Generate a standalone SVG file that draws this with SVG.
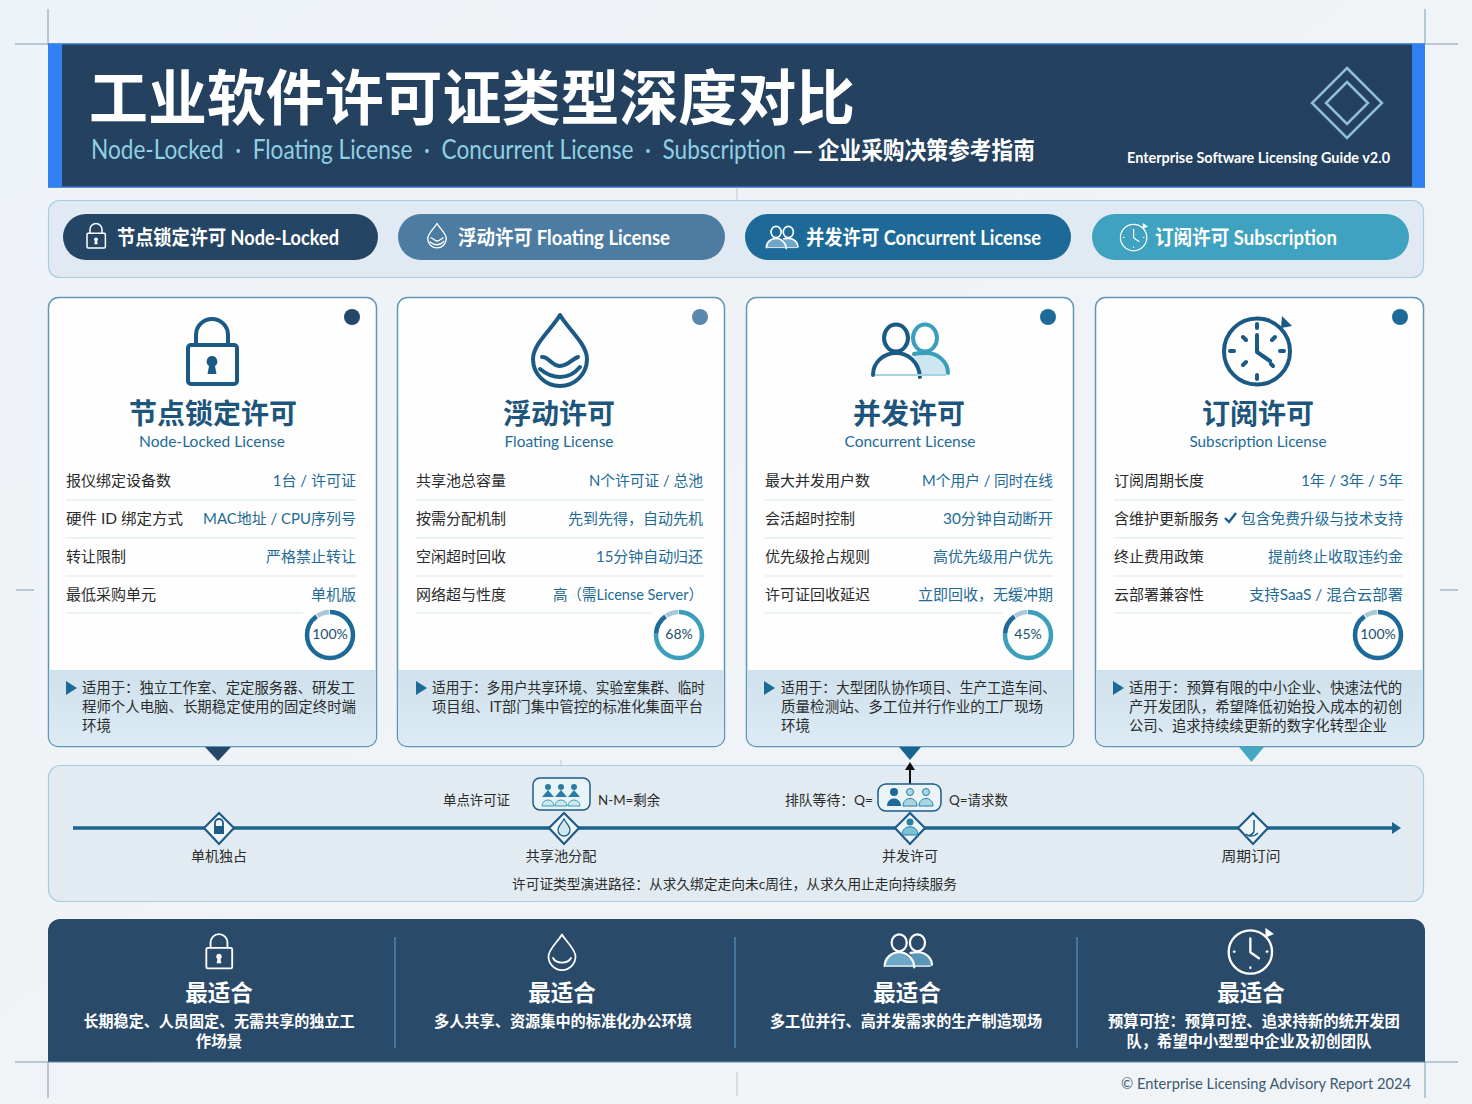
<svg xmlns="http://www.w3.org/2000/svg" width="1472" height="1104" viewBox="0 0 1472 1104">
<style>
text{font-family:"Lato","Noto Sans CJK SC",sans-serif}
.cjk{font-family:"Noto Sans CJK SC",sans-serif}
.crop{stroke:#7d9db3;stroke-width:1;fill:none}
.pill{font-size:20px;font-weight:700;fill:#fff}
.card{fill:#fdfefd;stroke:#5f97b7;stroke-width:1.5}
.title{font-size:28px;font-weight:700;fill:#1e557c;text-anchor:middle;font-family:"Noto Sans CJK SC",sans-serif}
.sub{font-size:15px;fill:#1f6a96;text-anchor:middle}
.k{font-size:15px;fill:#2b2b2b}
.v{font-size:15px;fill:#1f6a96;text-anchor:end}
.div{stroke:#dbe8ee;stroke-width:1.2}
.ap{font-size:14.5px;fill:#2b2b2b}
.pct{font-size:14px;fill:#24506f;text-anchor:middle}
.tl{font-size:14px;fill:#2b2b2b}
.tm{font-size:14px;fill:#2b2b2b;text-anchor:middle}
.bh{font-size:22.5px;font-weight:700;fill:#fff;text-anchor:middle;font-family:"Noto Sans CJK SC",sans-serif}
.bd{font-size:15.5px;font-weight:700;fill:#fff;text-anchor:middle;font-family:"Noto Sans CJK SC",sans-serif}
.ic{fill:none;stroke:currentColor;stroke-linecap:round;stroke-linejoin:round}
.dia{fill:#eef5f8;stroke:#1d5c88;stroke-width:2.2}
</style>
<defs>
<linearGradient id="bg" x1="0" y1="0" x2="1" y2="1"><stop offset="0" stop-color="#eef3f7"/><stop offset="1" stop-color="#f1f4f7"/></linearGradient>
<linearGradient id="band" x1="0" y1="0" x2="0" y2="1"><stop offset="0" stop-color="#cfe1ec"/><stop offset="1" stop-color="#dcebf4"/></linearGradient>
<symbol id="lock" viewBox="0 0 64 72" overflow="visible"><g class="ic"><rect x="8" y="30" width="49" height="39" rx="3"/><path d="M16 30V20a16 16 0 0 1 32 0v10"/></g><path d="M32 41a5.500 5.500 0 0 1 3 10l1.500 8h-9l1.500-8a5.500 5.500 0 0 1 3-10z" fill="currentColor"/></symbol>
<symbol id="drop" viewBox="0 0 64 72" overflow="visible"><g class="ic"><path d="M32 1C24 15 5 30 5 45a27 27 0 0 0 54 0C59 30 40 15 32 1z"/><path d="M14 43C20 42 24 52 32 52C40 52 44 45 50 43"/><path d="M12 55C18 60 24 63 32 63C40 63 47 59 52 53"/></g></symbol>
<symbol id="drop2" viewBox="0 0 64 72" overflow="visible"><g class="ic"><path d="M32 1C24 15 5 30 5 45a27 27 0 0 0 54 0C59 30 40 15 32 1z"/><path d="M14 48C20 60 44 60 50 48"/></g></symbol>
<symbol id="users" viewBox="0 0 76 54" overflow="visible"><path d="M40 30C44 29 50 29 54 29C66 29 76 38 76 51H48C47 42 44 35 40 30Z" fill="var(--b2,#cde6ef)"/><path d="M1 51C1 38 12 29 24 29C36 29 47 38 48 53L48 51Z" fill="var(--b1,none)"/><g class="ic"><ellipse cx="24" cy="14" rx="12" ry="13.500"/><path d="M1 51C1 38 12 29 24 29C36 29 47 38 48 53"/></g><g class="ic" style="stroke:var(--c2,currentColor)"><ellipse cx="53" cy="14" rx="12" ry="13.500"/><path d="M42 30C46 29 50 29 54 29C66 29 76 38 76 49"/></g><path d="M3 51H74" stroke="var(--c3,#a9d3e2)" stroke-width="2" fill="none"/></symbol>
<symbol id="clock" viewBox="0 0 70 70" overflow="visible"><g class="ic"><circle cx="34" cy="36.500" r="33"/><path d="M34 20V37L47 46"/><path d="M34 9v4M34 60v4M7 36h4M57 36h4M20 22l3 3M52 22l-3 3M20 50l3-3M48 49l2 2"/></g><path d="M59 1L69 11L58 13Z" fill="currentColor"/></symbol>
<symbol id="clock2" viewBox="0 0 70 70" overflow="visible"><g class="ic"><circle cx="34" cy="36.500" r="33"/><path d="M34 16V37L47 46"/><path d="M34 60v1M9 36h1M59 36h1"/></g><path d="M57 0L70 9L57 15Z" fill="currentColor"/></symbol>
</defs>
<rect width="1472" height="1104" fill="url(#bg)"/>

<g id="crop-marks">
<path class="crop" d="M48 9V44M15 44H48M1425 9V44M1425 44H1458M15 1062H48M48 1062V1098M1425 1062H1458M1425 1062V1098M16 590H34M1440 590H1458"/>
<path d="M737 188V201M561 760V772M737 1072V1096" stroke="#b9c8d3" stroke-width="1" fill="none"/>
</g>

<g id="header">
<rect x="48" y="44" width="1377" height="143" fill="#24415f"/>
<path d="M48 44H1425M48 187H1425" stroke="#2f73c4" stroke-width="1.500"/>
<rect x="48" y="44" width="14" height="143" fill="#2f80f0"/>
<rect x="1412" y="44" width="13" height="143" fill="#2f80f0"/>
<text x="89" y="120" class="cjk" font-size="60" font-weight="700" fill="#fff" textLength="766" lengthAdjust="spacingAndGlyphs">工业软件许可证类型深度对比</text>
<text x="91" y="159" font-size="26" fill="#8fd0e4" textLength="695" lengthAdjust="spacingAndGlyphs" style="white-space:pre">Node-Locked  ·  Floating License  ·  Concurrent License  ·  Subscription</text>
<text x="793" y="159" class="cjk" font-size="24" font-weight="700" fill="#fff" textLength="242" lengthAdjust="spacingAndGlyphs">— 企业采购决策参考指南</text>
<text x="1127" y="163" font-size="16" font-weight="700" fill="#fff" textLength="263" lengthAdjust="spacingAndGlyphs">Enterprise Software Licensing Guide v2.0</text>
<path d="M1347 68L1382 103L1347 138L1312 103Z M1347 82L1368 103L1347 124L1326 103Z" fill="none" stroke="#8ebfd5" stroke-width="2.500"/>
</g>

<g id="legend">
<rect x="48.500" y="200.500" width="1375" height="77" rx="11" fill="#e1eaf2" stroke="#a9cde0" stroke-width="1.200"/>
<g id="pill-node"><rect x="63" y="214" width="315" height="46" rx="23" fill="#254564"/>
<use href="#lock" x="84" y="222" width="24" height="27" style="color:#fff;stroke-width:4"/>
<text class="pill" x="117" y="245" textLength="222" lengthAdjust="spacingAndGlyphs">节点锁定许可 Node-Locked</text></g>
<g id="pill-float"><rect x="398" y="214" width="327" height="46" rx="23" fill="#4d7ca3"/>
<use href="#drop" x="426" y="222" width="22" height="27" style="color:#fff;stroke-width:4"/>
<text class="pill" x="458" y="245" textLength="212" lengthAdjust="spacingAndGlyphs">浮动许可 Floating License</text></g>
<g id="pill-conc"><rect x="745" y="214" width="326" height="46" rx="23" fill="#1d6a98"/>
<use href="#users" x="766" y="226" width="32" height="23" style="color:#fff;--b1:#6fa8c6;--b2:#6fa8c6;--c3:#fff;stroke-width:4"/>
<text class="pill" x="806" y="245" textLength="235" lengthAdjust="spacingAndGlyphs">并发许可 Concurrent License</text></g>
<g id="pill-sub"><rect x="1092" y="214" width="317" height="46" rx="23" fill="#3ea2c0"/>
<use href="#clock2" x="1120" y="223" width="28" height="28" style="color:#fff;stroke-width:3"/>
<text class="pill" x="1155" y="245" textLength="182" lengthAdjust="spacingAndGlyphs">订阅许可 Subscription</text></g>
</g>

<g id="card-node">
<rect class="card" x="48.500" y="297.500" width="328" height="449" rx="10"/>
<path d="M49 670H376V737a9 9 0 0 1-9 9H58a9 9 0 0 1-9-9Z" fill="url(#band)"/>
<circle cx="352" cy="317" r="8" fill="#24476a"/>
<use href="#lock" x="180" y="315" width="64" height="72" style="color:#1a5a85;stroke-width:4"/>
<text class="title" x="213" y="424">节点锁定许可</text>
<text class="sub" x="212" y="447" textLength="146" lengthAdjust="spacingAndGlyphs">Node-Locked License</text>
<text class="k" x="66" y="486">报仪绑定设备数</text><text class="v" x="356" y="486">1台 / 许可证</text>
<path class="div" d="M66 500H356M66 538H356M66 576H356M66 613H303"/>
<text class="k" x="66" y="524" textLength="117" lengthAdjust="spacingAndGlyphs">硬件 ID 绑定方式</text><text class="v" x="356" y="524" textLength="153" lengthAdjust="spacingAndGlyphs">MAC地址 / CPU序列号</text>
<text class="k" x="66" y="562">转让限制</text><text class="v" x="356" y="562">严格禁止转让</text>
<text class="k" x="66" y="600">最低采购单元</text><text class="v" x="356" y="600">单机版</text>
<g transform="rotate(-90 330 635)" fill="none" stroke-width="4.500"><circle cx="330" cy="635" r="23" stroke="#1d6a98" pathLength="100" stroke-dasharray="90 10"/><circle cx="330" cy="635" r="23" stroke="#a9c9da" pathLength="100" stroke-dasharray="9 91" stroke-dashoffset="-90.500"/></g>
<text class="pct" x="330" y="639">100%</text>
<path d="M66 681L77 688L66 695Z" fill="#1d6a98"/>
<text class="ap" x="82" y="693" textLength="273" lengthAdjust="spacingAndGlyphs">适用于：独立工作室、定定服务器、研发工</text>
<text class="ap" x="82" y="712" textLength="274" lengthAdjust="spacingAndGlyphs">程师个人电脑、长期稳定使用的固定终时端</text>
<text class="ap" x="82" y="731">环境</text>
<path d="M205 747H231L218 761Z" fill="#24476a"/>
</g>

<g id="card-float">
<rect class="card" x="397.500" y="297.500" width="327" height="449" rx="10"/>
<path d="M398 670H724V737a9 9 0 0 1-9 9H407a9 9 0 0 1-9-9Z" fill="url(#band)"/>
<circle cx="700" cy="317" r="8" fill="#5b87ad"/>
<use href="#drop" x="528" y="314" width="64" height="72" style="color:#1a5a85;stroke-width:4"/>
<text class="title" x="559" y="424">浮动许可</text>
<text class="sub" x="559" y="447" textLength="109" lengthAdjust="spacingAndGlyphs">Floating License</text>
<text class="k" x="416" y="486">共享池总容量</text><text class="v" x="703" y="486" textLength="114" lengthAdjust="spacingAndGlyphs">N个许可证 / 总池</text>
<path class="div" d="M416 500H704M416 538H704M416 576H704M416 613H652"/>
<text class="k" x="416" y="524">按需分配机制</text><text class="v" x="703" y="524">先到先得，自动先机</text>
<text class="k" x="416" y="562">空闲超时回收</text><text class="v" x="703" y="562" textLength="107" lengthAdjust="spacingAndGlyphs">15分钟自动归还</text>
<text class="k" x="416" y="600">网络超与性度</text><text class="v" x="703" y="600" textLength="150" lengthAdjust="spacingAndGlyphs">高（需License Server）</text>
<g transform="rotate(-90 679 635)" fill="none" stroke-width="4.500"><circle cx="679" cy="635" r="23" stroke="#3a9fbb" pathLength="100" stroke-dasharray="76 24"/><circle cx="679" cy="635" r="23" stroke="#1d6a98" pathLength="100" stroke-dasharray="14 86" stroke-dashoffset="-76"/><circle cx="679" cy="635" r="23" stroke="#a9c9da" pathLength="100" stroke-dasharray="9 91" stroke-dashoffset="-90.500"/></g>
<text class="pct" x="679" y="639">68%</text>
<path d="M416 681L427 688L416 695Z" fill="#1d6a98"/>
<text class="ap" x="432" y="693" textLength="273" lengthAdjust="spacingAndGlyphs">适用于：多用户共享环境、实验室集群、临时</text>
<text class="ap" x="432" y="712" textLength="271" lengthAdjust="spacingAndGlyphs">项目组、IT部门集中管控的标准化集面平台</text>
</g>

<g id="card-conc">
<rect class="card" x="746.500" y="297.500" width="327" height="449" rx="10"/>
<path d="M747 670H1073V737a9 9 0 0 1-9 9H756a9 9 0 0 1-9-9Z" fill="url(#band)"/>
<circle cx="1048" cy="317" r="8" fill="#1d6a98"/>
<use href="#users" x="872" y="324" width="76" height="54" style="color:#1a5a85;--c2:#3a9fbb;stroke-width:4"/>
<text class="title" x="909" y="424">并发许可</text>
<text class="sub" x="910" y="447" textLength="131" lengthAdjust="spacingAndGlyphs">Concurrent License</text>
<text class="k" x="765" y="486">最大并发用户数</text><text class="v" x="1053" y="486" textLength="131" lengthAdjust="spacingAndGlyphs">M个用户 / 同时在线</text>
<path class="div" d="M765 500H1053M765 538H1053M765 576H1053M765 613H1002"/>
<text class="k" x="765" y="524">会活超时控制</text><text class="v" x="1053" y="524" textLength="110" lengthAdjust="spacingAndGlyphs">30分钟自动断开</text>
<text class="k" x="765" y="562">优先级抢占规则</text><text class="v" x="1053" y="562">高优先级用户优先</text>
<text class="k" x="765" y="600">许可证回收延迟</text><text class="v" x="1053" y="600">立即回收，无缓冲期</text>
<g transform="rotate(-90 1028 635)" fill="none" stroke-width="4.500"><circle cx="1028" cy="635" r="23" stroke="#3a9fbb" pathLength="100" stroke-dasharray="76 24"/><circle cx="1028" cy="635" r="23" stroke="#1d6a98" pathLength="100" stroke-dasharray="14 86" stroke-dashoffset="-76"/><circle cx="1028" cy="635" r="23" stroke="#a9c9da" pathLength="100" stroke-dasharray="9 91" stroke-dashoffset="-90.500"/></g>
<text class="pct" x="1028" y="639">45%</text>
<path d="M764 681L775 688L764 695Z" fill="#1d6a98"/>
<text class="ap" x="781" y="693" textLength="275" lengthAdjust="spacingAndGlyphs">适用于：大型团队协作项目、生产工造车间、</text>
<text class="ap" x="781" y="712" textLength="262" lengthAdjust="spacingAndGlyphs">质量检测站、多工位并行作业的工厂现场</text>
<text class="ap" x="781" y="731">环境</text>
<path d="M899 747H921L910 760Z" fill="#1a6490"/>
</g>

<g id="card-sub">
<rect class="card" x="1095.500" y="297.500" width="328" height="449" rx="10"/>
<path d="M1096 670H1423V737a9 9 0 0 1-9 9H1105a9 9 0 0 1-9-9Z" fill="url(#band)"/>
<circle cx="1400" cy="317" r="8" fill="#1d6a98"/>
<use href="#clock" x="1223" y="315" width="70" height="70" style="color:#1a5a85;stroke-width:4"/>
<text class="title" x="1258" y="424">订阅许可</text>
<text class="sub" x="1258" y="447" textLength="137" lengthAdjust="spacingAndGlyphs">Subscription License</text>
<text class="k" x="1114" y="486">订阅周期长度</text><text class="v" x="1403" y="486" textLength="102" lengthAdjust="spacingAndGlyphs">1年 / 3年 / 5年</text>
<path class="div" d="M1114 500H1403M1114 538H1403M1114 576H1403M1114 613H1352"/>
<text class="k" x="1114" y="524">含维护更新服务</text><text class="v" x="1403" y="524" textLength="162" lengthAdjust="spacingAndGlyphs">包含免费升级与技术支持</text>
<path d="M1225 518l4 4 7-9" fill="none" stroke="#1d5c88" stroke-width="2.400"/>
<text class="k" x="1114" y="562">终止费用政策</text><text class="v" x="1403" y="562">提前终止收取违约金</text>
<text class="k" x="1114" y="600">云部署兼容性</text><text class="v" x="1403" y="600" textLength="154" lengthAdjust="spacingAndGlyphs">支持SaaS / 混合云部署</text>
<g transform="rotate(-90 1378 635)" fill="none" stroke-width="4.500"><circle cx="1378" cy="635" r="23" stroke="#1d6a98" pathLength="100" stroke-dasharray="90 10"/><circle cx="1378" cy="635" r="23" stroke="#a9c9da" pathLength="100" stroke-dasharray="9 91" stroke-dashoffset="-90.500"/></g>
<text class="pct" x="1378" y="639">100%</text>
<path d="M1113 681L1124 688L1113 695Z" fill="#1d6a98"/>
<text class="ap" x="1129" y="693" textLength="273" lengthAdjust="spacingAndGlyphs">适用于：预算有限的中小企业、快速法代的</text>
<text class="ap" x="1129" y="712" textLength="273" lengthAdjust="spacingAndGlyphs">产开发团队，希望降低初始投入成本的初创</text>
<text class="ap" x="1129" y="731" textLength="258" lengthAdjust="spacingAndGlyphs">公司、追求持续续更新的数字化转型企业</text>
<path d="M1239 747H1264L1251.500 762Z" fill="#45a7c2"/>
</g>

<g id="timeline-panel">
<rect x="48.500" y="765.500" width="1375" height="136" rx="12" fill="#e2ebf2" stroke="#a9cde0" stroke-width="1.200"/>
</g>
<g id="connectors">
<path d="M73 828H1393" stroke="#1a6490" stroke-width="3.500" fill="none"/>
<path d="M1392 822L1401 828L1392 834Z" fill="#1a6490"/>
<path d="M910 784V768" stroke="#111" stroke-width="2" fill="none"/>
<path d="M905 770L910 762L915 770Z" fill="#111"/>
</g>
<g id="node-solo">
<path class="dia" d="M219 813L234 828L219 844L204 828Z"/>
<path d="M215 826v-3a4 4 0 0 1 8 0v3" fill="none" stroke="#1d5c88" stroke-width="1.800"/><rect x="214" y="826" width="10" height="8" fill="#1d5c88"/>
<text class="tm" x="219" y="861">单机独占</text>
</g>
<g id="node-pool">
<rect x="533" y="778" width="57" height="32" rx="7" fill="#eaf3f6" stroke="#1d5c88" stroke-width="1.500"/>
<g fill="#2a7ea6"><circle cx="548" cy="787" r="3"/><circle cx="561" cy="787" r="3"/><circle cx="574" cy="787" r="3"/><path d="M542 797l6-7 6 7zM555 797l6-7 6 7zM568 797l6-7 6 7z"/></g>
<path d="M542 806a6 6 0 0 1 12 0zM555 806a6 6 0 0 1 12 0zM568 806a6 6 0 0 1 12 0z" fill="#cfe7ee" stroke="#3a9fbb" stroke-width="1"/>
<text class="tl" x="443" y="805" textLength="67" lengthAdjust="spacingAndGlyphs">单点许可证</text>
<text class="tl" x="598" y="805" textLength="62" lengthAdjust="spacingAndGlyphs">N-M=剩余</text>
<path class="dia" d="M564 813L579 828L564 844L549 828Z"/>
<path d="M564 819c-2 4-6 7-6 11a6 6 0 0 0 12 0c0-4-4-7-6-11z" fill="#cfe7ee" stroke="#1d5c88" stroke-width="1.300"/>
<text class="tm" x="561" y="861" textLength="71" lengthAdjust="spacingAndGlyphs">共享池分配</text>
</g>
<g id="node-conc">
<rect x="878" y="784" width="63" height="27" rx="8" fill="#eaf3f6" stroke="#1d5c88" stroke-width="1.500"/>
<g fill="#1d6a98"><circle cx="894" cy="792" r="4"/><path d="M887 806c0-10 14-10 14 0z"/></g>
<g fill="#a9d6e4" stroke="#2a7ea6" stroke-width="1"><circle cx="910" cy="792" r="3.500"/><path d="M903 806c0-10 14-10 14 0z"/><circle cx="926" cy="792" r="3.500"/><path d="M919 806c0-10 14-10 14 0z"/></g>
<text class="tl" x="785" y="805" textLength="88" lengthAdjust="spacingAndGlyphs">排队等待：Q=</text>
<text class="tl" x="949" y="805" textLength="59" lengthAdjust="spacingAndGlyphs">Q=请求数</text>
<path class="dia" d="M910 813L925 828L910 844L895 828Z"/>
<circle cx="910" cy="822" r="3.500" fill="#2a7ea6"/><path d="M902 835c0-11 16-11 16 0z" fill="#7cc2d6" stroke="#2a7ea6" stroke-width="1"/>
<text class="tm" x="910" y="861">并发许可</text>
</g>
<g id="node-sub">
<path class="dia" d="M1253 813L1268 828L1253 844L1238 828Z"/>
<path d="M1254 820v10c0 4-3 5-6 6M1246 834c3 3 8 3 12-1" fill="none" stroke="#1d5c88" stroke-width="1.500"/>
<text class="tm" x="1251" y="861" textLength="59" lengthAdjust="spacingAndGlyphs">周期订问</text>
</g>
<text id="timeline-caption" class="tl" x="512" y="889" textLength="445" lengthAdjust="spacingAndGlyphs">许可证类型演进路径：从求久绑定走向未c周往，从求久用止走向持续服务</text>

<g id="best-fit">
<path d="M48 1062V931a12 12 0 0 1 12-12H1413a12 12 0 0 1 12 12V1062Z" fill="#2a4a69"/>
<path d="M48 1062H1425" stroke="#5a88a6" stroke-width="1.200"/>
<path d="M395 937V1048M735 937V1048M1077 937V1048" stroke="#4f87ae" stroke-width="1.500" fill="none"/>
<g id="fit-node"><use href="#lock" x="202" y="932" width="34" height="38" style="color:#fff;stroke-width:3.500"/>
<text class="bh" x="219" y="1001">最适合</text>
<text class="bd" x="219" y="1027" textLength="271" lengthAdjust="spacingAndGlyphs">长期稳定、人员固定、无需共享的独立工</text>
<text class="bd" x="219" y="1047">作场景</text></g>
<g id="fit-float"><use href="#drop2" x="546" y="932" width="32" height="40" style="color:#fff;stroke-width:3.500"/>
<text class="bh" x="562" y="1001">最适合</text>
<text class="bd" x="563" y="1027" textLength="258" lengthAdjust="spacingAndGlyphs">多人共享、资源集中的标准化办公环境</text></g>
<g id="fit-conc"><use href="#users" x="884" y="934" width="48" height="34" style="color:#fff;--b1:#6fa8c6;--b2:#5b96b8;--c3:#fff;stroke-width:3.500"/>
<text class="bh" x="907" y="1001">最适合</text>
<text class="bd" x="906" y="1027" textLength="272" lengthAdjust="spacingAndGlyphs">多工位并行、高并发需求的生产制造现场</text></g>
<g id="fit-sub"><use href="#clock2" x="1228" y="928" width="46" height="46" style="color:#fff;stroke-width:3.500"/>
<text class="bh" x="1251" y="1001">最适合</text>
<text class="bd" x="1254" y="1027" textLength="292" lengthAdjust="spacingAndGlyphs">预算可控：预算可控、追求持新的统开发团</text>
<text class="bd" x="1249" y="1047" textLength="245" lengthAdjust="spacingAndGlyphs">队，希望中小型型中企业及初创团队</text></g>
</g>
<text id="footer" x="1121" y="1089" font-size="16" fill="#3c5a70" textLength="290" lengthAdjust="spacingAndGlyphs">© Enterprise Licensing Advisory Report 2024</text>
</svg>
